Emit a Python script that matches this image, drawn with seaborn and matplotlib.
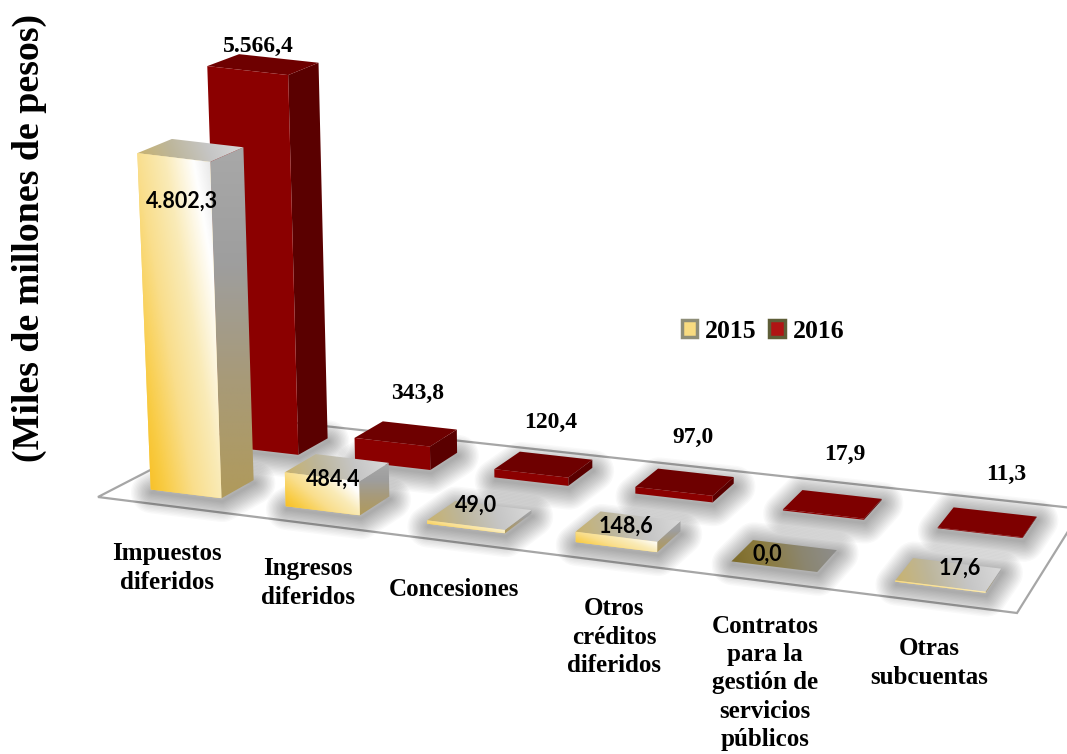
"""
plot.py

Pasivos diferidos 2015-2016 como barras en perspectiva, sobre un piso inclinado.
"""
import numpy as np
import seaborn as sns

from matplotlib import pyplot as plt
from matplotlib import transforms as tr
from matplotlib.colors import LinearSegmentedColormap as Lsc
from matplotlib.patches import Patch, Polygon

CATEGORIAS = ["Impuestos\ndiferidos", "Ingresos\ndiferidos", "Concesiones",
              "Otros\ncréditos\ndiferidos",
              "Contratos\npara la\ngestión de\nservicios\npúblicos",
              "Otras\nsubcuentas"]
VALORES_2015 = [4802.3, 484.4, 49.0, 148.6, 0.0, 17.6]
VALORES_2016 = [5566.4, 343.8, 120.4, 97.0, 17.9, 11.3]
SERIES = ["2015", "2016"]
TITULO_Y = "(Miles de millones de pesos)"

W, H = 1067, 754

# Layout, in reference pixels: front-left, front-right, back-right, back-left
FLOOR_CORNERS = [(98, 497), (1017, 613), (1082, 509), (251, 418)]
VANISH = (608.0, 12000.0)
DEPTH_2015 = (0.13, 0.34)
DEPTH_2016 = (0.65, 0.865)
# the back row runs wider on the left than the floor perspective gives
WIDEN_2016 = [0.085, 0.035, 0, 0, 0, 0]
POS_CAT = [(167, 568), (308, 583), (454, 590), (614, 637), (765, 683), (929, 663)]
POS_2015 = [(182, 201), (333, 479), (476, 505), (626, 526), (767, 554), (960, 568)]
POS_2016 = [(258, 46), (418, 393), (551, 422), (693, 437), (845, 454), (1006, 474)]

SERIF = "Liberation Serif"

sns.set_theme(style="white")
plt.rcParams["font.family"] = [SERIF, "DejaVu Sans"]
plt.rcParams["text.color"] = "black"

PIXEL = tr.Affine2D().scale(1, -1).translate(0, H)

CMAP_FRONT = Lsc.from_list("front", ["#F7B80F", "#F9CC45", "#F9DE8C", "#FAEBB8", "#FFFFFF", "#D8D8D8"])
CMAP_SIDE = Lsc.from_list("side", ["#B09A5C", "#A89A78", "#9E9E9E", "#A8A8A8"])
CMAP_TOP = Lsc.from_list("top", ["#C9B26C", "#BDB69A", "#C6C6C6", "#DADADA"])
CMAP_TOP_ZERO = Lsc.from_list("zero", ["#7C6A28", "#8C7C40", "#8B8670", "#8E8E8E"])


def floor_matrix():
    """Homography of the unit square (s, depth) onto the floor corners"""
    (x0, y0), (x1, y1), (x2, y2), (x3, y3) = FLOOR_CORNERS
    dx3, dy3 = x0 - x1 + x2 - x3, y0 - y1 + y2 - y3
    dx1, dy1 = x1 - x2, y1 - y2
    dx2, dy2 = x3 - x2, y3 - y2
    den = dx1 * dy2 - dx2 * dy1
    g = (dx3 * dy2 - dx2 * dy3) / den
    h = (dx1 * dy3 - dx3 * dy1) / den
    return np.array([[x1 - x0 + g * x1, x3 - x0 + h * x3, x0],
                     [y1 - y0 + g * y1, y3 - y0 + h * y3, y0],
                     [g, h, 1.0]])


MATRIX = floor_matrix()


def floor_height(x, depth, value):
    """Reference pixel of category position x, floor depth and bar value"""
    s = (np.asarray(x, float) + 0.5) / 6
    depth = np.broadcast_to(depth, s.shape)
    w = MATRIX[2, 0] * s + MATRIX[2, 1] * depth + 1
    px = (MATRIX[0, 0] * s + MATRIX[0, 1] * depth + MATRIX[0, 2]) / w
    py = (MATRIX[1, 0] * s + MATRIX[1, 1] * depth + MATRIX[1, 2]) / w
    rise = np.asarray(value, float) * (0.0705 - 0.0035 * depth)
    return (px - rise / (VANISH[1] - py) * (VANISH[0] - px), py - rise)


def proj(x, depth, value):
    """Same as floor_height, in display coordinates"""
    px, py = floor_height(x, depth, value)
    return np.column_stack([px, H - py])


class BarPlane(tr.Transform):
    """Send (category position, value) to the screen at a fixed floor depth"""
    input_dims = output_dims = 2
    is_separable = False

    def __init__(self, floor_depth):
        super().__init__()
        self.floor_depth = floor_depth

    def transform_non_affine(self, values):
        values = np.asarray(values, float)
        return proj(values[:, 0], self.floor_depth, values[:, 1])


def gradient(ax, pts, cmap, angle, z):
    left, bottom = pts.min(axis=0)
    right, top = pts.max(axis=0)
    u, v = np.meshgrid(np.linspace(0, 1, 60), np.linspace(0, 1, 60))
    ca, sa = np.cos(np.radians(angle)), np.sin(np.radians(angle))
    ramp = (ca * u + sa * v) / (abs(ca) + abs(sa))
    ramp = ramp - ramp.min()
    img = ax.imshow(ramp, origin="lower", extent=(left, right, bottom, top),
                    transform=tr.IdentityTransform(), cmap=cmap, vmin=0, vmax=1,
                    aspect="auto", zorder=z, interpolation="bilinear")
    clip = Polygon(pts, transform=tr.IdentityTransform(), fc="none", ec="none", zorder=z)
    ax.add_patch(clip)
    img.set_clip_path(clip)


def flat(ax, pts, color, z):
    ax.add_patch(Polygon(pts, transform=tr.IdentityTransform(), fc=color, ec="none", zorder=z))


def shadow(ax, base):
    for lw in range(30, 0, -2):
        ax.add_patch(Polygon(base + [1, -3], transform=tr.IdentityTransform(), fc="none",
                             ec="black", lw=lw, alpha=0.024, joinstyle="round", zorder=2))


def faces(x0, x1, depth, v):
    d0, d1 = depth
    xs = np.array([x0, x1, x1, x0])
    base = proj(xs, np.array([d0, d0, d1, d1]), np.zeros(4))
    top = proj(xs, np.array([d0, d0, d1, d1]), np.full(4, v))
    front = proj(xs, np.full(4, d0), np.array([0, 0, v, v]))
    side = proj(np.full(4, x1), np.array([d0, d1, d1, d0]), np.array([0, 0, v, v]))
    return base, top, front, side


def format_es(v):
    return f"{v:,.1f}".replace(",", "X").replace(".", ",").replace("X", ".")


def main():
    fig = plt.figure(figsize=(W / 100, H / 100), dpi=100)
    ax = fig.add_axes([0, 0, 1, 1])

    sns.barplot(x=CATEGORIAS, y=VALORES_2016, color="#8B0000", saturation=1,
                width=0.53, legend=False, ax=ax)
    n = len(CATEGORIAS)
    sns.barplot(x=CATEGORIAS, y=VALORES_2015, color="#F9D569", saturation=1,
                width=0.53, legend=False, ax=ax)
    bars_2016, bars_2015 = ax.patches[:n], ax.patches[n:2 * n]

    # floor
    corners = proj(np.array([-0.5, 5.5, 5.5, -0.5]), np.array([0.0, 0.0, 1.0, 1.0]), np.zeros(4))
    ax.add_patch(Polygon(corners, transform=tr.IdentityTransform(), fc="white",
                         ec="#A6A6A6", lw=1.6, zorder=1))

    for bar, extra in zip(bars_2016, WIDEN_2016):
        bar.set_x(bar.get_x() - extra)
        bar.set_width(bar.get_width() + extra)
        x0, x1, v = bar.get_x(), bar.get_x() + bar.get_width(), bar.get_height()
        base, top, front, side = faces(x0, x1, DEPTH_2016, v)
        shadow(ax, base)
        bar.set_transform(BarPlane(DEPTH_2016[0]))
        bar.set(zorder=3.2, edgecolor="none")
        flat(ax, side, "#5A0000", 3.1)
        flat(ax, top, "#6E0000" if v > 50 else "#7E0000", 3.1)

    for bar in bars_2015:
        x0, x1, v = bar.get_x(), bar.get_x() + bar.get_width(), bar.get_height()
        base, top, front, side = faces(x0, x1, DEPTH_2015, v)
        shadow(ax, base)
        bar.set_transform(BarPlane(DEPTH_2015[0]))
        bar.set(zorder=4.05, edgecolor="none")
        gradient(ax, side, CMAP_SIDE, 90, 4.1)
        gradient(ax, top, CMAP_TOP_ZERO if v == 0 else CMAP_TOP, 5, 4.1)
        gradient(ax, front, CMAP_FRONT, 35, 4.2)

    ax.set_xlim(-0.5, 5.5)
    ax.set_ylim(0, 6000)
    ax.set_axis_off()

    for name, (x, y) in zip(CATEGORIAS, POS_CAT):
        ax.text(x, y, name, transform=PIXEL, ha="center", va="center", fontsize=18,
                fontweight="bold", linespacing=1.28, zorder=6)
    for v, (x, y) in zip(VALORES_2016, POS_2016):
        ax.text(x, y, format_es(v), transform=PIXEL, ha="center", va="center",
                fontsize=17, fontweight="bold", zorder=6)
    for v, (x, y) in zip(VALORES_2015, POS_2015):
        ax.text(x, y, format_es(v), transform=PIXEL, ha="center", va="center",
                fontsize=15.5, fontweight="bold", family="Lato", zorder=6)
    ax.text(29, 238, TITULO_Y, transform=PIXEL, ha="center", va="center", rotation=90,
            fontsize=27.3, fontweight="bold")

    handles = [Patch(fc="#F8DC80", ec="#8E8E78", lw=2.5, label=SERIES[0]),
               Patch(fc="#B01414", ec="#5E5E38", lw=2.5, label=SERIES[1])]
    ax.legend(handles=handles, loc="center", bbox_to_anchor=(763 / W, 1 - 331 / H),
              bbox_transform=fig.transFigure, ncols=2, frameon=False, handlelength=0.6,
              handleheight=0.6, handletextpad=0.3, columnspacing=0.5, labelcolor="black",
              prop={"family": SERIF, "weight": "bold", "size": 18.5})

    fig.savefig("out.png", dpi=100)


if __name__ == "__main__":
    main()
